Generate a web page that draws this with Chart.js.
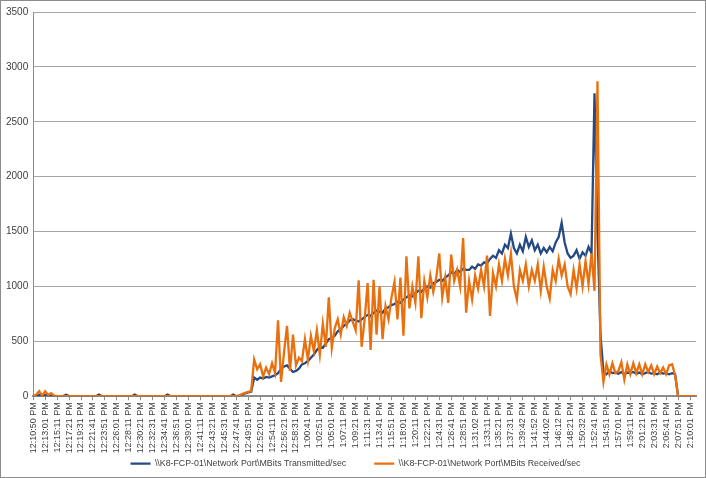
<!DOCTYPE html>
<html>
<head>
<meta charset="utf-8">
<script src="https://cdn.jsdelivr.net/npm/chart.js@4.4.1/dist/chart.umd.min.js"></script>
<style>
    html, body { margin: 0; padding: 0; background: #fff; }
    #wrap { width: 704px; height: 476px; border: 1px solid #8c8c8c; position: relative; }
</style>
</head>
<body>
<div id="wrap"><canvas id="netChart"></canvas></div>
<script>
// axis labels, one every 4 samples
const timeLabels = [
    '12:10:50 PM', '12:13:01 PM', '12:15:11 PM', '12:17:21 PM', '12:19:31 PM', '12:21:41 PM', '12:23:51 PM',
    '12:26:01 PM', '12:28:11 PM', '12:30:21 PM', '12:32:31 PM', '12:34:41 PM', '12:36:51 PM', '12:39:01 PM',
    '12:41:11 PM', '12:43:21 PM', '12:45:31 PM', '12:47:41 PM', '12:49:51 PM', '12:52:01 PM', '12:54:11 PM',
    '12:56:21 PM', '12:58:31 PM', '1:00:41 PM', '1:02:51 PM', '1:05:01 PM', '1:07:11 PM', '1:09:21 PM',
    '1:11:31 PM', '1:13:41 PM', '1:15:51 PM', '1:18:01 PM', '1:20:11 PM', '1:22:21 PM', '1:24:31 PM',
    '1:26:41 PM', '1:28:51 PM', '1:31:02 PM', '1:33:11 PM', '1:35:21 PM', '1:37:31 PM', '1:39:42 PM',
    '1:41:52 PM', '1:44:02 PM', '1:46:12 PM', '1:48:21 PM', '1:50:32 PM', '1:52:41 PM', '1:54:51 PM',
    '1:57:01 PM', '1:59:11 PM', '2:01:21 PM', '2:03:31 PM', '2:05:41 PM', '2:07:51 PM', '2:10:01 PM'
];
const samplesPerLabel = 4;

const mbitsTransmitted = [
    0, 0, 10, 0, 10, 0, 0, 0, 0, 0,
    0, 12, 0, 0, 0, 0, 0, 0, 0, 0,
    0, 0, 15, 0, 0, 0, 0, 0, 0, 0,
    0, 0, 0, 0, 15, 0, 0, 0, 0, 0,
    0, 0, 0, 0, 0, 15, 0, 0, 0, 0,
    0, 0, 0, 0, 0, 0, 0, 0, 0, 0,
    0, 0, 0, 0, 0, 0, 0, 15, 0, 5,
    15, 25, 35, 40, 170, 150, 170, 160, 175, 170,
    180, 190, 210, 250, 270, 280, 250, 220, 230, 250,
    290, 300, 320, 350, 380, 420, 450, 440, 480, 520,
    530, 550, 590, 610, 640, 660, 690, 700, 690, 680,
    700, 720, 740, 730, 760, 780, 770, 760, 800, 810,
    830, 840, 860, 850, 880, 900, 920, 910, 940, 960,
    950, 980, 1000, 990, 1030, 1040, 1060, 1050, 1080, 1100,
    1130, 1110, 1150, 1130, 1160, 1150, 1150, 1180, 1160, 1200,
    1190, 1220, 1210, 1250, 1280, 1260, 1330, 1300, 1380, 1350,
    1480, 1350, 1300, 1380, 1320, 1450, 1360, 1420, 1330, 1380,
    1300, 1350, 1310, 1360, 1320, 1400, 1450, 1580, 1400, 1300,
    1260, 1280, 1330, 1250, 1310, 1280, 1360, 1300, 2760, 1500,
    560, 220, 200, 230, 210, 215, 205, 220, 200, 215,
    210, 220, 205, 215, 200, 210, 220, 205, 210, 200,
    215, 205, 210, 200, 210, 200, 0, 0, 0, 0,
    0, 0, 0
];

const mbitsReceived = [
    0, 15, 45, 5, 45, 10, 28, 5, 0, 0,
    0, 0, 0, 0, 0, 0, 0, 0, 0, 0,
    0, 0, 0, 0, 0, 0, 0, 0, 0, 0,
    0, 0, 0, 0, 0, 0, 0, 0, 0, 0,
    0, 0, 0, 0, 0, 0, 0, 0, 0, 0,
    0, 0, 0, 0, 0, 0, 0, 0, 0, 0,
    0, 0, 0, 0, 0, 0, 0, 0, 0, 5,
    20, 30, 40, 45, 335, 245, 290, 180, 260, 200,
    300, 210, 690, 130, 400, 640, 230, 560, 280, 350,
    320, 520, 330, 550, 410, 600, 380, 660, 450, 900,
    440, 620, 700, 560, 720, 640, 760, 680, 600, 1055,
    450, 700, 1030, 420, 1060, 560, 1000, 520, 820, 700,
    900, 1040, 700, 1080, 550, 1275, 800, 1000, 850, 1275,
    710, 1050, 900, 1100, 950, 1080, 1300, 900, 1080, 850,
    1290, 1050, 1150, 1000, 1440, 760, 1050, 880, 1100, 980,
    1150, 1000, 1280, 730, 1120, 1000, 1200, 1050, 1250, 1100,
    1300, 1000, 880, 1150, 1050, 1200, 1000, 1150, 1050, 1200,
    960, 1180, 1000, 890, 1150, 1050, 1250, 1100, 1200, 1000,
    930, 1150, 980, 1200, 1000, 1230, 1020, 1300, 960, 2870,
    380, 130, 290, 200, 300, 210, 230, 310, 150, 290,
    200, 300, 210, 290, 200, 290, 220, 280, 200, 270,
    210, 260, 200, 280, 290, 190, 0, 0, 0, 0,
    0, 0, 0
];

const seriesNames = [
    '\\\\K8-FCP-01\\Network Port\\MBits Transmitted/sec',
    '\\\\K8-FCP-01\\Network Port\\MBits Received/sec'
];

const sampleIndex = mbitsReceived.map((v, i) => i);
const textColor = '#404040';
const fontFamily = 'Liberation Sans, Arial, sans-serif';

// legend padding is 28 so the two entries sit far apart, but that also
// reserves 28px above the text; give most of it back to the x axis
const legendGap = {
    id: 'legendGap',
    beforeLayout(chart) {
        const legend = chart.legend;
        if (legend && !legend._gapPatched) {
            const fit = legend.fit.bind(legend);
            legend.fit = function() { fit(); this.height -= 25; };
            legend._gapPatched = true;
        }
    },
    afterLayout(chart) {
        // only move the top edge, the legend clips to its own box
        if (chart.legend) {
            chart.legend.top -= 24;
            chart.legend.left += 14;
        }
    }
};

new Chart(document.getElementById('netChart').getContext('2d'), {
    type: 'line',
    data: {
        labels: sampleIndex,
        datasets: [{
            label: seriesNames[0],
            data: mbitsTransmitted,
            borderColor: '#254a82',
            backgroundColor: '#254a82',
            borderWidth: 2.3,
            pointRadius: 0,
            order: 1
        }, {
            label: seriesNames[1],
            data: mbitsReceived,
            borderColor: '#e8700e',
            backgroundColor: '#e8700e',
            borderWidth: 2.3,
            pointRadius: 0,
            order: 0 // orange on top
        }]
    },
    plugins: [legendGap],
    options: {
        responsive: true,
        maintainAspectRatio: false,
        animation: false,
        layout: { padding: { left: 0, right: 9, top: 4, bottom: 0 } },
        plugins: {
            tooltip: { enabled: false },
            legend: {
                position: 'bottom',
                labels: {
                    usePointStyle: true,
                    pointStyle: 'line',
                    pointStyleWidth: 20,
                    padding: 28,
                    color: textColor,
                    font: { family: fontFamily, size: 8.8 },
                    sort: (a, b) => a.datasetIndex - b.datasetIndex
                }
            }
        },
        scales: {
            x: {
                grid: { display: true, drawOnChartArea: false, tickLength: 4, color: '#8c8c8c' },
                border: { color: '#8c8c8c', width: 2 },
                ticks: {
                    autoSkip: false,
                    minRotation: 90,
                    maxRotation: 90,
                    padding: 2,
                    color: textColor,
                    font: { family: fontFamily, size: 9 },
                    callback: function(value, index) {
                        return index % samplesPerLabel === 0 ? timeLabels[index / samplesPerLabel] : null;
                    }
                }
            },
            y: {
                min: 0,
                max: 3500,
                grid: { color: '#a6a6a6', drawTicks: false },
                border: { color: '#8c8c8c', width: 1 },
                ticks: {
                    stepSize: 500,
                    padding: 5,
                    color: textColor,
                    font: { family: fontFamily, size: 10 },
                    callback: (v) => String(v)
                }
            }
        }
    }
});
</script>
</body>
</html>
